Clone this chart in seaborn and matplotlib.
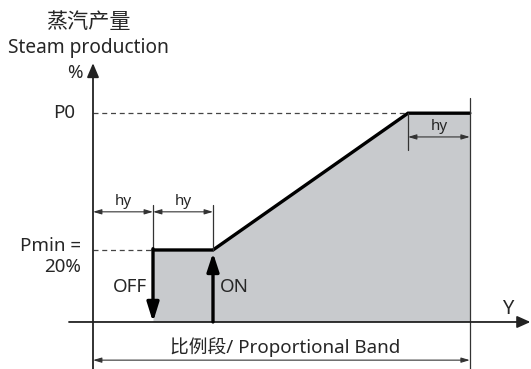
import matplotlib
matplotlib.use("Agg")
import matplotlib.pyplot as plt
import seaborn as sns

sns.set_style("white")
plt.rcParams['font.family'] = ['Noto Sans', 'Noto Sans CJK SC', 'DejaVu Sans']

# 数据 (x 以 hy 为单位, y 为 %)
hy = 1.0
off_x = 1.0           # OFF 点
on_x = 2.0            # ON 点
ramp_end_x = 5.25     # 达到 P0 的位置
band_end_x = 6.28     # 比例段终点
pmin = 20.0
p0 = 58.0

curve_x = [off_x, on_x, ramp_end_x, band_end_x]
curve_y = [pmin, pmin, p0, p0]

# 图
fig = plt.figure(figsize=(5.31, 3.69), dpi=100)
ax = fig.add_axes([0, 0, 1, 1])
ax.set_xlim(-1.55, 7.3)
ax.set_ylim(-13.06, 89.44)
ax.axis('off')

# 灰色区域
ax.fill_between(curve_x, curve_y, 0, color='#c8cacd', lw=0)

# 坐标轴
ax_col = '#222222'
ax.annotate('', xy=(7.29, 0), xytext=(-0.4, 0), annotation_clip=False,
            arrowprops=dict(arrowstyle='-|>,head_width=0.36,head_length=0.8', mutation_scale=10,
                            lw=1.3, color=ax_col, shrinkA=0, shrinkB=0))
ax.annotate('', xy=(0, 71.9), xytext=(0, -13.1), annotation_clip=False,
            arrowprops=dict(arrowstyle='-|>,head_width=0.36,head_length=0.85', mutation_scale=10,
                            lw=1.3, color=ax_col, shrinkA=0, shrinkB=0))

# 虚线
sns.lineplot(x=[0, off_x], y=[pmin, pmin], ax=ax, color='#444444', lw=0.9,
             linestyle=(0, (4, 3)), sort=False, estimator=None)
sns.lineplot(x=[0, ramp_end_x], y=[p0, p0], ax=ax, color='#444444', lw=0.9,
             linestyle=(0, (4, 3)), sort=False, estimator=None)

# 粗线
sns.lineplot(x=curve_x, y=curve_y, ax=ax, color='black', lw=2.4, sort=False, estimator=None,
             solid_joinstyle='miter')
ax.annotate('', xy=(off_x, 0), xytext=(off_x, pmin + 0.35),
            arrowprops=dict(arrowstyle='-|>,head_width=0.36,head_length=1.15', mutation_scale=10,
                            lw=2.4, color='black', shrinkA=0, shrinkB=0))
ax.annotate('', xy=(on_x, pmin - 0.8), xytext=(on_x, 0),
            arrowprops=dict(arrowstyle='-|>,head_width=0.36,head_length=1.1', mutation_scale=10,
                            lw=2.4, color='black', shrinkA=0, shrinkB=0))

# 尺寸线
dim_col = '#333333'
dim_style = dict(arrowstyle='<|-|>,head_width=0.15,head_length=0.5', mutation_scale=10,
                 lw=0.8, color=dim_col, shrinkA=0, shrinkB=0)
for xv in [off_x, on_x]:
    ax.plot([xv, xv], [pmin, 32.5], color=dim_col, lw=0.9)
ax.plot([ramp_end_x, ramp_end_x], [p0, 47.8], color=dim_col, lw=0.9)
ax.plot([band_end_x, band_end_x], [62.2, -13.1], color=dim_col, lw=0.9)

ax.annotate('', xy=(0, 30.6), xytext=(off_x, 30.6), arrowprops=dim_style)
ax.annotate('', xy=(off_x, 30.6), xytext=(on_x, 30.6), arrowprops=dim_style)
ax.annotate('', xy=(ramp_end_x, 51.4), xytext=(band_end_x, 51.4), arrowprops=dim_style)
ax.annotate('', xy=(0, -10.6), xytext=(band_end_x, -10.6), arrowprops=dim_style)

fs = 13.5
ax.text(0.5, 33.6, 'hy', ha='center', va='center', fontsize=11)
ax.text(1.5, 33.6, 'hy', ha='center', va='center', fontsize=11)
ax.text((ramp_end_x + band_end_x) / 2, 54.2, 'hy', ha='center', va='center', fontsize=11)

# 文字
ax.text(-0.08, 83.3, '蒸汽产量', ha='center', va='center', fontsize=15.2)
ax.text(-0.07, 76.1, 'Steam production', ha='center', va='center', fontsize=13.8)
ax.text(-0.18, 69.2, '%', ha='right', va='center', fontsize=fs)
ax.text(-0.3, p0, 'P0', ha='right', va='center', fontsize=fs)
ax.text(-0.2, 21.2, 'Pmin =', ha='right', va='center', fontsize=fs)
ax.text(-0.2, 15.3, '20%', ha='right', va='center', fontsize=fs)
ax.text(0.9, 9.7, 'OFF', ha='right', va='center', fontsize=fs)
ax.text(2.12, 9.7, 'ON', ha='left', va='center', fontsize=fs)
ax.text(6.92, 3.5, 'Y', ha='center', va='center', fontsize=fs + 1)
ax.text(3.21, -6.9, '比例段/ Proportional Band', ha='center', va='center', fontsize=13.5)

fig.savefig('out.png', dpi=100)
